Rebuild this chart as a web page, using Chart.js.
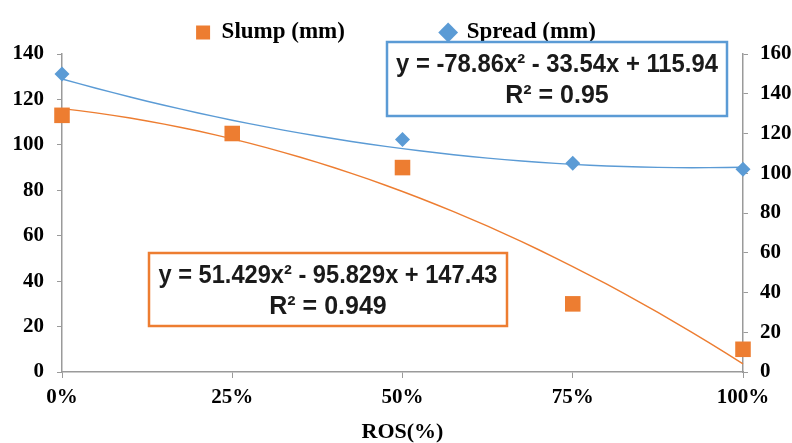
<!DOCTYPE html>
<html>
<head>
<meta charset="utf-8">
<script src="https://cdn.jsdelivr.net/npm/chart.js@4/dist/chart.umd.min.js"></script>
<style>
  html, body { margin: 0; padding: 0; background: #fff; }
  #wrap { width: 792px; height: 443px; }
</style>
</head>
<body>
<div id="wrap"><canvas id="chart"></canvas></div>
<script>
const categories = ['0%', '25%', '50%', '75%', '100%'];
const slump = [113, 105, 90, 30, 10];
const spread = [150, 120, 117, 105, 102];
const leftTicks = [0, 20, 40, 60, 80, 100, 120, 140];
const rightTicks = [0, 20, 40, 60, 80, 100, 120, 140, 160];
const blueBoxText = ['y = -78.86x\u00b2 - 33.54x + 115.94', 'R\u00b2 = 0.95'];
const orangeBoxText = ['y = 51.429x\u00b2 - 95.829x + 147.43', 'R\u00b2 = 0.949'];

const ORANGE = '#ED7D31';
const BLUE = '#5B9BD5';
const AXIS = '#9a9a9a';
const SERIF = '"Liberation Serif", "Times New Roman", serif';

const xValues = categories.map((c) => parseFloat(c));

// least squares quadratic, x as a fraction (0..1) like the spreadsheet trendline
const fitQuadratic = (xs, ys) => {
  let s0 = xs.length, s1 = 0, s2 = 0, s3 = 0, s4 = 0, t0 = 0, t1 = 0, t2 = 0;
  xs.forEach((x, i) => {
    const y = ys[i];
    s1 += x; s2 += x * x; s3 += x * x * x; s4 += x * x * x * x;
    t0 += y; t1 += x * y; t2 += x * x * y;
  });
  const det = (m) =>
    m[0][0] * (m[1][1] * m[2][2] - m[1][2] * m[2][1]) -
    m[0][1] * (m[1][0] * m[2][2] - m[1][2] * m[2][0]) +
    m[0][2] * (m[1][0] * m[2][1] - m[1][1] * m[2][0]);
  const A = [[s4, s3, s2], [s3, s2, s1], [s2, s1, s0]];
  const D = det(A);
  const a = det([[t2, s3, s2], [t1, s2, s1], [t0, s1, s0]]) / D;
  const b = det([[s4, t2, s2], [s3, t1, s1], [s2, t0, s0]]) / D;
  const c = det([[s4, s3, t2], [s3, s2, t1], [s2, s1, t0]]) / D;
  return (x) => a * x * x + b * x + c;
};

const trendPoints = (ys) => {
  const f = fitQuadratic(xValues.map((x) => x / 100), ys);
  const pts = [];
  for (let x = 0; x <= 100; x += 2.5) pts.push({ x: x, y: f(x / 100) });
  return pts;
};

const toPoints = (ys) => ys.map((y, i) => ({ x: xValues[i], y: y }));

const equationBoxes = {
  id: 'equationBoxes',
  afterDatasetsDraw(chart) {
    const ctx = chart.ctx;
    const boxes = [
      { x: 387, y: 42, w: 340, h: 74, color: BLUE, lines: blueBoxText, maxW: 322 },
      { x: 149, y: 253, w: 358, h: 73, color: ORANGE, lines: orangeBoxText, maxW: 339 },
    ];
    boxes.forEach((b) => {
      ctx.save();
      ctx.fillStyle = '#ffffff';
      ctx.fillRect(b.x, b.y, b.w, b.h);
      ctx.lineWidth = 2.5;
      ctx.strokeStyle = b.color;
      ctx.strokeRect(b.x, b.y, b.w, b.h);
      ctx.fillStyle = '#1a1a1a';
      ctx.font = 'bold 25px "Liberation Sans", Arial, sans-serif';
      ctx.textAlign = 'center';
      ctx.textBaseline = 'alphabetic';
      const cx = b.x + b.w / 2;
      ctx.fillText(b.lines[0], cx, b.y + 30, b.maxW);
      ctx.fillText(b.lines[1], cx, b.y + 61);
      ctx.restore();
    });
  },
};

new Chart(document.getElementById('chart'), {
  type: 'scatter',
  data: {
    datasets: [
      {
        label: 'Slump (mm)',
        data: toPoints(slump),
        yAxisID: 'y',
        pointStyle: 'rect',
        pointRadius: 11,
        pointHoverRadius: 11,
        backgroundColor: ORANGE,
        borderWidth: 0,
        clip: false,
        order: 0,
      },
      {
        label: 'Spread (mm)',
        data: toPoints(spread),
        yAxisID: 'y2',
        pointStyle: 'rectRot',
        pointRadius: 7.5,
        pointHoverRadius: 7.5,
        backgroundColor: BLUE,
        borderWidth: 0,
        clip: false,
        order: 0,
      },
      {
        label: 'Slump trend',
        type: 'line',
        data: trendPoints(slump),
        yAxisID: 'y',
        borderColor: ORANGE,
        borderWidth: 1.4,
        pointRadius: 0,
        tension: 0,
        clip: false,
        order: 1,
      },
      {
        label: 'Spread trend',
        type: 'line',
        data: trendPoints(spread),
        yAxisID: 'y2',
        borderColor: BLUE,
        borderWidth: 1.4,
        pointRadius: 0,
        tension: 0,
        clip: false,
        order: 1,
      },
    ],
  },
  options: {
    responsive: true,
    maintainAspectRatio: false,
    animation: false,
    layout: { padding: 0 },
    scales: {
      x: {
        type: 'linear',
        min: 0,
        max: 100,
        afterBuildTicks: (scale) => {
          scale.ticks = xValues.map((v) => ({ value: v }));
        },
        afterFit: (scale) => {
          scale.height = 71;
        },
        ticks: {
          callback: (v) => categories[xValues.indexOf(v)],
          color: '#000',
          font: { family: SERIF, size: 21, weight: 'bold' },
          padding: 7,
          maxRotation: 0,
        },
        grid: { drawOnChartArea: false, tickLength: 6, color: AXIS },
        border: { color: AXIS, width: 1.5 },
        title: {
          display: true,
          text: 'ROS(%)',
          color: '#000',
          font: { family: SERIF, size: 22, weight: 'bold', lineHeight: 1 },
          padding: 0,
        },
      },
      y: {
        position: 'left',
        min: 0,
        max: 140,
        afterBuildTicks: (scale) => {
          scale.ticks = leftTicks.map((v) => ({ value: v }));
        },
        afterFit: (scale) => {
          scale.width = 62;
          scale.paddingTop = 54;
        },
        ticks: {
          color: '#000',
          font: { family: SERIF, size: 21, weight: 'bold' },
          padding: 13,
        },
        grid: { drawOnChartArea: false, tickLength: 5, color: AXIS },
        border: { color: AXIS, width: 1.5 },
      },
      y2: {
        position: 'right',
        min: 0,
        max: 160,
        afterBuildTicks: (scale) => {
          scale.ticks = rightTicks.map((v) => ({ value: v }));
        },
        afterFit: (scale) => {
          scale.width = 49;
        },
        ticks: {
          color: '#000',
          font: { family: SERIF, size: 21, weight: 'bold' },
          padding: 12,
        },
        grid: { drawOnChartArea: false, tickLength: 5, color: AXIS },
        border: { color: AXIS, width: 1.5 },
      },
    },
    plugins: {
      tooltip: { enabled: false },
      legend: {
        position: 'top',
        labels: {
          usePointStyle: true,
          boxWidth: 14,
          boxHeight: 14,
          padding: 10,
          color: '#000',
          font: { family: SERIF, size: 23, weight: 'bold' },
          generateLabels: (chart) =>
            Chart.defaults.plugins.legend.labels
              .generateLabels(chart)
              .filter((item) => item.datasetIndex < 2)
              .map((item) => {
                if (item.datasetIndex === 0) item.text += ' '.repeat(15);
                return item;
              }),
        },
      },
    },
  },
  plugins: [equationBoxes],
});
</script>
</body>
</html>
